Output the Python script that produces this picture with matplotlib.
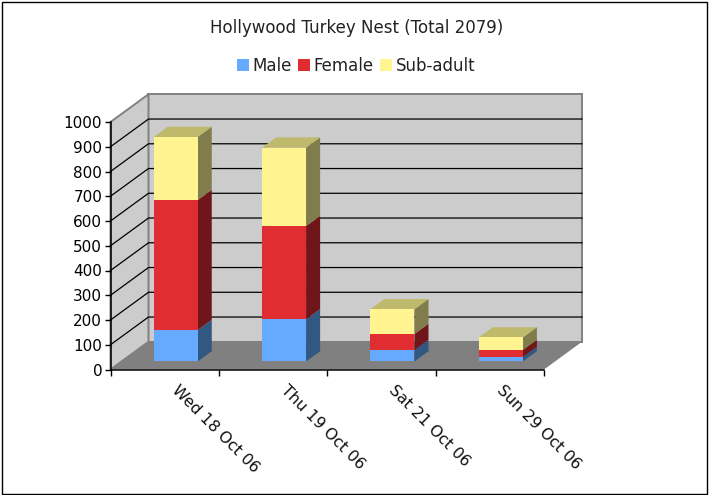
import matplotlib
matplotlib.use("Agg")
import matplotlib.pyplot as plt
from matplotlib.patches import Patch, Polygon, Rectangle

# values
dates = ["Wed 18 Oct 06", "Thu 19 Oct 06", "Sat 21 Oct 06", "Sun 29 Oct 06"]
male = [127, 170, 46, 18]
female = [525, 377, 65, 28]
subadult = [255, 317, 100, 51]
series_names = ["Male", "Female", "Sub-adult"]
y_ticks = list(range(0, 1001, 100))

front_cols = ["#66aaff", "#e02d32", "#fff48f"]
side_cols = ["#315880", "#701519", "#807c4c"]
top_col = "#bfb96c"

W, H = 709, 495
DX = 38 / 108.4   # depth offset in category units
DY = 112          # depth offset in value units
BAR_W = 0.406
D0, D1 = 0.29, 0.66


def proj(x, y, d):
    # oblique projection, d=0 front of chart, d=1 back wall
    return (x + d * DX, y + d * DY)


def face(ax, pts, color, z, edge="none", lw=0):
    ax.add_patch(Polygon([proj(*p) for p in pts], closed=True, facecolor=color,
                         edgecolor=edge, linewidth=lw, zorder=z, clip_on=False))


fig = plt.figure(figsize=(W / 100, H / 100), dpi=100)
fig.patch.set_facecolor("white")
fig.add_artist(Rectangle((1.5 / W, 1.5 / H), 705.5 / W, 491.5 / H, transform=fig.transFigure,
                         facecolor="none", edgecolor="black", linewidth=1))

ax = fig.add_axes([110.5 / W, 1 - 369.5 / H, 433.5 / W, 247.5 / H])
ax.set_xlim(0, len(dates))
ax.set_ylim(0, 1000)
ax.patch.set_visible(False)
for s in ["top", "right"]:
    ax.spines[s].set_visible(False)
for s in ["left", "bottom"]:
    ax.spines[s].set_linewidth(1.1)
    ax.spines[s].set_zorder(8)

n = len(dates)
# walls and floor
face(ax, [(0, 0, 1), (n, 0, 1), (n, 1000, 1), (0, 1000, 1)], "#cccccc", 1, "#808080", 1.4)
face(ax, [(0, 0, 0), (0, 0, 1), (0, 1000, 1), (0, 1000, 0)], "#cccccc", 1, "#808080", 1.4)
face(ax, [(0, 0, 0), (n, 0, 0), (n, 0, 1), (0, 0, 1)], "#808080", 2)

# gridlines on back and side wall
for v in y_ticks[1:-1]:
    xs, ys = zip(proj(0, v, 0), proj(0, v, 1), proj(n, v, 1))
    ax.plot(xs, ys, color="black", lw=0.9, zorder=1.5, clip_on=False)

# stacked bars
for i in range(n):
    x0 = i + 0.5 - BAR_W / 2
    x1 = i + 0.5 + BAR_W / 2
    base = 0
    for vals, fc, sc in zip([male, female, subadult], front_cols, side_cols):
        top = base + vals[i]
        face(ax, [(x1, base, D0), (x1, base, D1), (x1, top, D1), (x1, top, D0)], sc, 4)
        face(ax, [(x0, base, D0), (x1, base, D0), (x1, top, D0), (x0, top, D0)], fc, 5)
        base = top
    face(ax, [(x0, base, D0), (x1, base, D0), (x1, base, D1), (x0, base, D1)], top_col, 4)

ax.set_yticks(y_ticks)
ax.tick_params(axis="y", length=4, width=1, labelsize=11, pad=2, colors="black")
ax.set_xticks(range(n + 1))
ax.tick_params(axis="x", length=4, width=1, labelbottom=False)
for i, d in enumerate(dates):
    ax.annotate(d, xy=(i + 0.5, 0), xycoords="data", xytext=(7, -13), textcoords="offset points",
                rotation=-45, rotation_mode="anchor", ha="left", va="center", fontsize=11.3,
                color="#111111", annotation_clip=False)

fig.text(356.5 / W, 1 - 28 / H, "Hollywood Turkey Nest (Total 2079)", ha="center", va="center",
         fontsize=12, color="#222222")
handles = [Patch(facecolor=c, edgecolor="none", label=l) for c, l in zip(front_cols, series_names)]
fig.legend(handles=handles, loc="center", bbox_to_anchor=(356 / W, 1 - 66 / H), ncol=3, frameon=False,
           fontsize=12, handlelength=0.72, handleheight=0.68, handletextpad=0.2, columnspacing=0.4,
           labelcolor="#222222")

fig.savefig("out.png", dpi=100)
